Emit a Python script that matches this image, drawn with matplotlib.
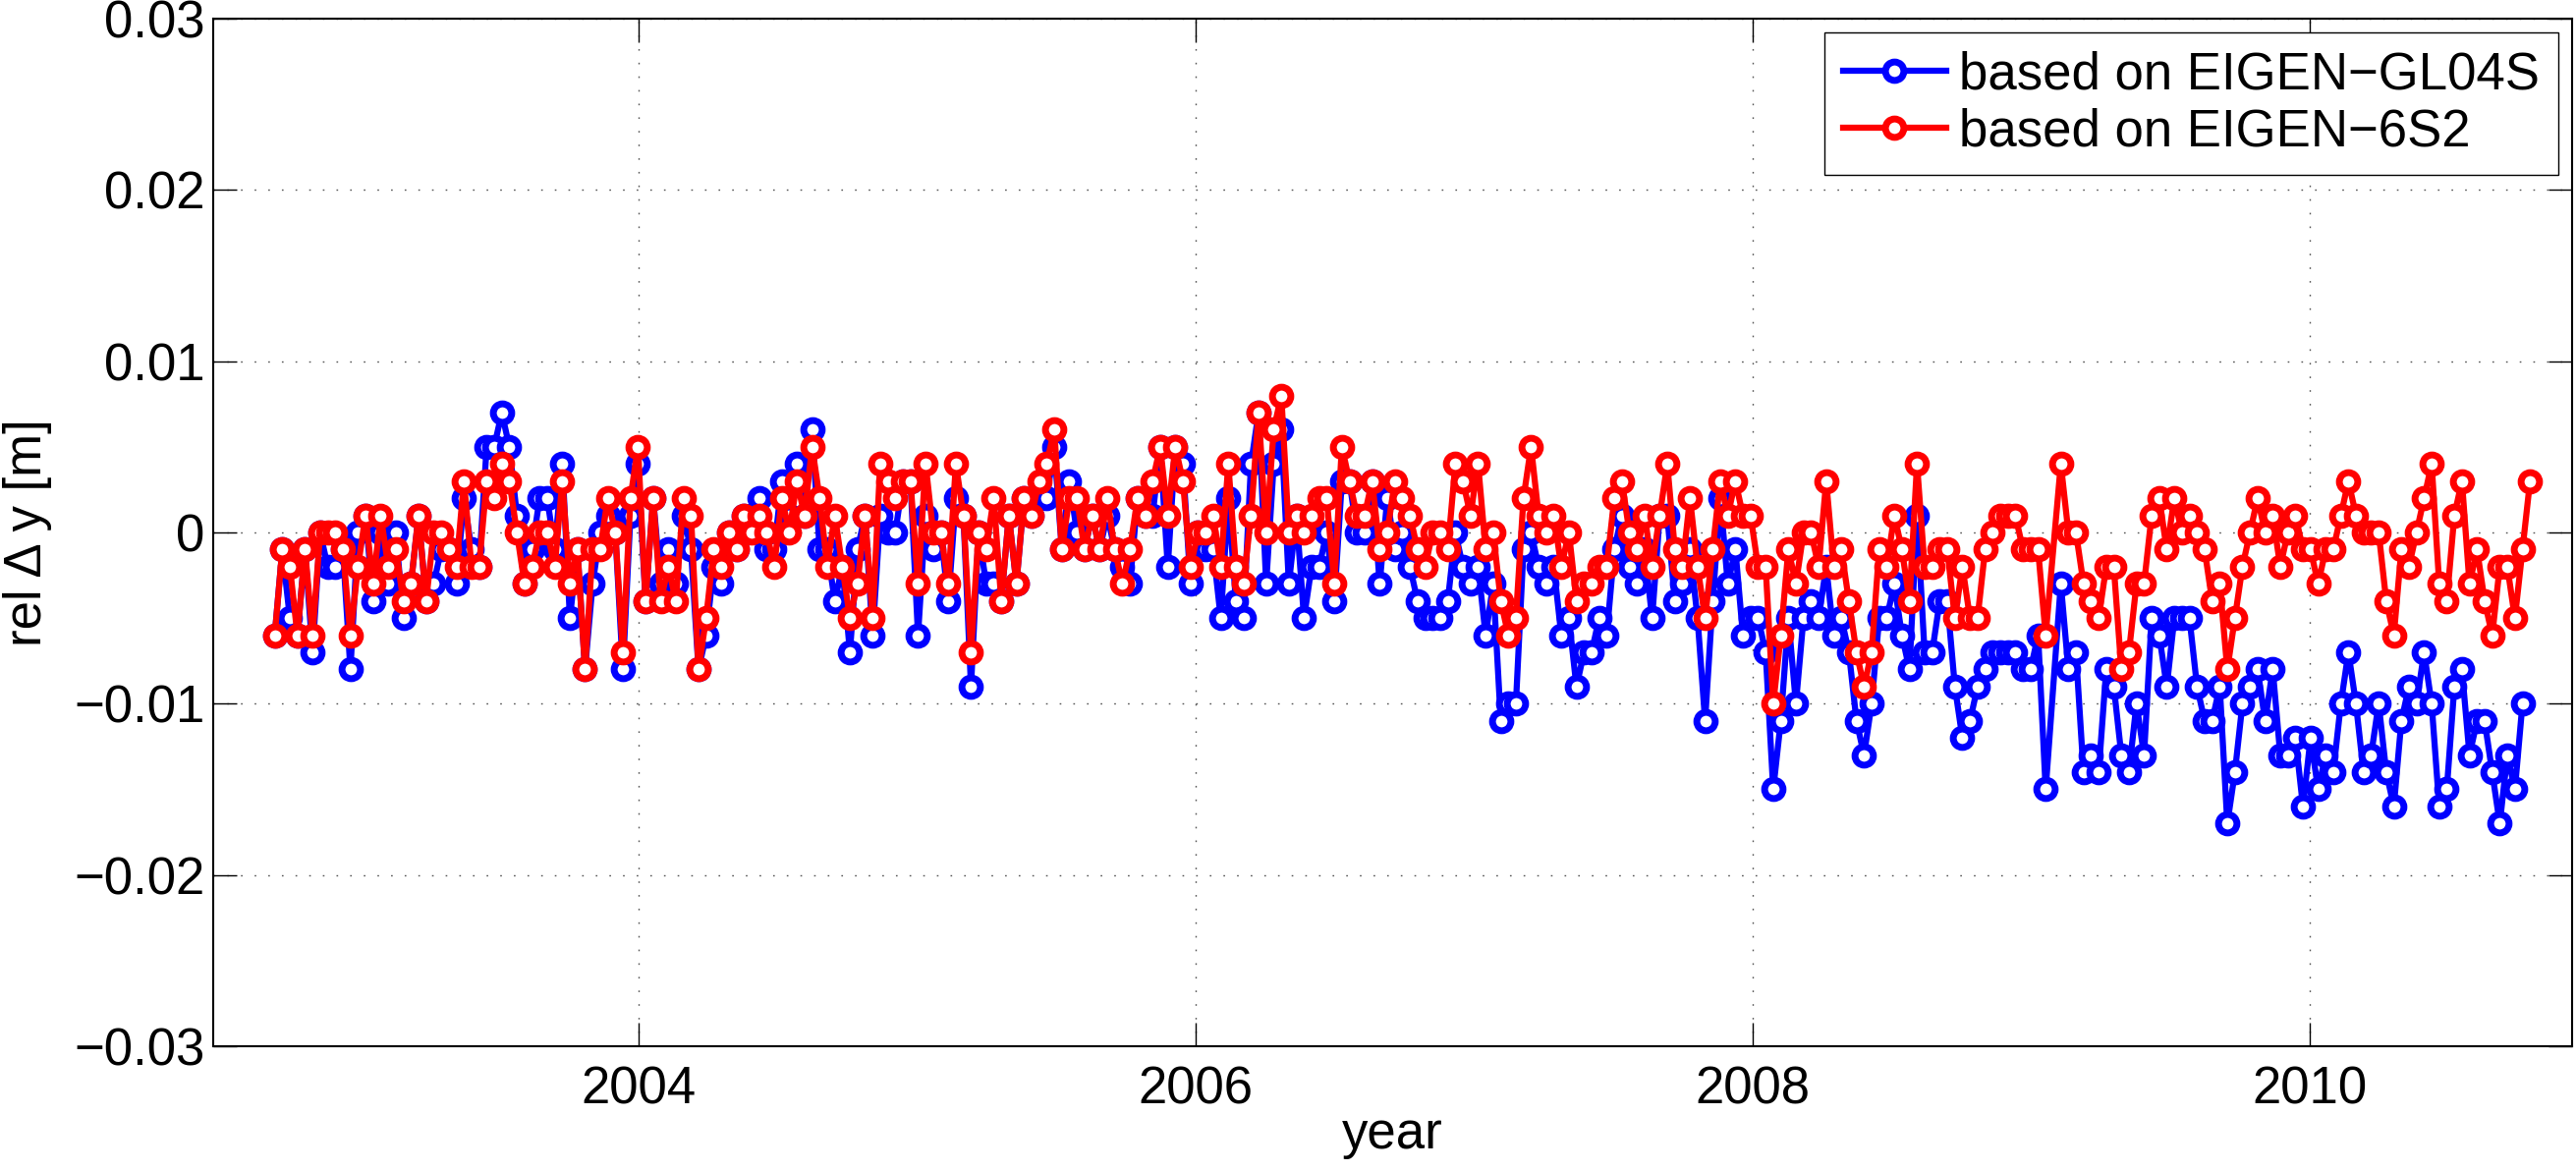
import numpy as np
import matplotlib
matplotlib.use("Agg")
import matplotlib.pyplot as plt
from matplotlib.ticker import FixedLocator, FuncFormatter

plt.rcParams['font.family'] = ['Liberation Sans', 'DejaVu Sans']
plt.rcParams['axes.unicode_minus'] = True

# ---- data -------------------------------------------------------------
# 10-day solutions: decimal year of first solution and spacing, one missing solution
T_START = 2002.693
T_STEP = 0.027178
N_SOL = 299
MISSING = [235]

# rel. Delta y in millimetres, based on EIGEN-6S2 (red)
red_mm = [
    -6, -1, -2, -6, -1, -6, 0, 0, 0, -1,
    -6, -2, 1, -3, 1, -2, -1, -4, -3, 1,
    -4, 0, 0, -1, -2, 3, -2, -2, 3, 2,
    4, 3, 0, -3, -2, 0, 0, -2, 3, -3,
    -1, -8, -1, -1, 2, 0, -7, 2, 5,
    -4, 2, -4, -2, -4, 2, 1, -8, -5, -1,
    -2, 0, -1, 1, 0, 1, 0, -2, 2, 0,
    3, 1, 5, 2, -2, 1, -2, -5, -3, 1,
    -5, 4,
    3, 2, 3, 3, -3, 4, 0, 0, -3,
    4, 1, -7, 0, -1, 2, -4, 1, -3, 2,
    1, 3, 4, 6, -1, 2, 2, -1, 1, -1,
    2, -1, -3, -1, 2, 1, 3, 5, 1, 5,
    3, -2, 0, 0, 1, -2, 4, -2, -3, 1,
    7, 0, 6, 8, 0, 1, 0, 1, 2, 2,
    -3, 5, 3, 1, 1, 3, -1, 0, 3, 2,
    1, -1, -2, 0, 0, -1, 4, 3, 1, 4,
    -1, 0, -4, -6, -5, 2, 5,
    1, 0, 1, -2, 0, -4, -3, -3, -2, -2,
    2, 3, 0, -1, 1, -2, 1, 4, -1, -2,
    2, -2, -5, -1, 3, 1, 3, 1, 1, -2,
    -2, -10, -6, -1, -3, 0, 0, -2, 3, -2,
    -1, -4, -7, -9, -7, -1, -2, 1, -1, -4,
    4, -2, -2, -1, -1, -5, -2, -5, -5, -1,
    0, 1, 1, 1, -1, -1, -1, -6,
    4, 0, 0, -3, -4, -5, -2, -2, -8, -7,
    -3, -3, 1, 2, -1, 2, 0, 1, 0, -1,
    -4, -3, -8, -5, -2, 0, 2, 0, 1, -2,
    0, 1, -1, -1, -3, -1, -1, 1, 3, 1,
    0, 0, 0, -4, -6, -1, -2, 0, 2, 4,
    -3, -4, 1, 3, -3, -1, -4, -6, -2, -2,
    -5, -1, 3,
]

# rel. Delta y in millimetres, based on EIGEN-GL04S (blue)
blue_mm = [
    -6, -1, -5, -6, -1, -7, 0, -2, -2, -1,
    -8, 0, 1, -4, 0, -3, 0, -5, -3, 1,
    -4, -3, -1, -1, -3, 2, -1, -2, 5, 5,
    7, 5, 1, -3, -1, 2, 2, -1, 4, -5,
    -1, -8, -3, 0, 1, 0, -8, 1, 4,
    -4, 2, -3, -1, -3, 1, -1, -8, -6, -2,
    -3, 0, -1, 1, 1, 2, -1, -1, 3, 1,
    4, 1, 6, -1, -1, -4, -2, -7, -1, 1,
    -6, 1,
    0, 0, 3, 3, -6, 1, -1, 0, -4,
    2, 1, -9, 0, -3, -3, -4, 1, -3, 2,
    1, 2, 2, 5, -1, 3, 0, -1, 1, -1,
    1, -1, -2, -3, 2, 1, 1, 5, -2, 5,
    4, -3, 0, -1, -1, -5, 2, -4, -5, 4,
    7, -3, 4, 6, -3, 1, -5, -2, -2, 0,
    -4, 3, 3, 0, 0, 3, -3, 2, -1, 0,
    -2, -4, -5, -5, -5, -4, 0, -2, -3, -2,
    -6, -3, -11, -10, -10, -1,
    0, -2, -3, -2, -6, -5, -9, -7, -7, -5,
    -6, -1, 1, -2, -3, -1, -5, 1, 1, -4,
    -3, -1, -5, -11, -4, 2, -3, -1, -6, -5,
    -5, -7, -15, -11, -5, -10, -5, -4, -5, -2,
    -6, -5, -7, -11, -13, -10, -5, -5, -3, -6,
    -8, 1, -7, -7, -4, -4, -9, -12, -11, -9,
    -8, -7, -7, -7, -7, -8, -8, -6, -15,
    -3, -8, -7, -14, -13, -14, -8, -9, -13, -14,
    -10, -13, -5, -6, -9, -5, -5, -5, -9, -11,
    -11, -9, -17, -14, -10, -9, -8, -11, -8, -13,
    -13, -12, -16, -12, -15, -13, -14, -10, -7, -10,
    -14, -13, -10, -14, -16, -11, -9, -10, -7, -10,
    -16, -15, -9, -8, -13, -11, -11, -14, -17, -13,
    -15, -10, np.nan,
]

labels = ['based on EIGEN\u2212GL04S', 'based on EIGEN\u22126S2']
x_ticks = [2004, 2006, 2008, 2010]
y_ticks = [-0.03, -0.02, -0.01, 0.0, 0.01, 0.02, 0.03]
x_limits = (2002.472, 2010.943)
y_limits = (-0.03, 0.03)

# ---- derived ------------------------------------------------------------
sol = np.array([k for k in range(N_SOL) if k not in MISSING])
t = T_START + T_STEP * sol
red = np.array(red_mm, dtype=float) / 1000.0
blue = np.array(blue_mm, dtype=float) / 1000.0
assert len(red) == len(t) and len(blue) == len(t)

# ---- figure -------------------------------------------------------------
W, H = 2622, 1192
fig = plt.figure(figsize=(W / 100, H / 100), dpi=100)
ax = fig.add_axes([217 / W, 1 - 1065 / H, (2618 - 217) / W, (1065 - 19) / H])

FS = 38
style = dict(linewidth=4.5, marker='o', markersize=13.5, markeredgewidth=5,
             markerfacecolor='white')
ax.plot(t, blue, color=(0, 0, 1), label=labels[0], zorder=3, **style)
ax.plot(t, red, color=(1, 0, 0), label=labels[1], zorder=4, **style)

ax.set_xlim(*x_limits)
ax.set_ylim(*y_limits)
ax.xaxis.set_major_locator(FixedLocator(x_ticks))
ax.yaxis.set_major_locator(FixedLocator(y_ticks))
ax.xaxis.set_major_formatter(FuncFormatter(lambda v, p: f"{v:.0f}"))


def yfmt(v, p):
    if abs(v) < 1e-12:
        return "0"
    return f"{v:.2f}".replace("-", "\u2212")


ax.yaxis.set_major_formatter(FuncFormatter(yfmt))

ax.grid(True, color='#555555', linestyle=(0, (1.2, 8.8)), linewidth=1.0, zorder=0)
ax.set_axisbelow(True)

ax.tick_params(axis='both', which='major', direction='in', length=17.3, width=1.0,
               top=True, right=True, labelsize=FS, color='black')
ax.tick_params(axis='x', pad=14)
ax.tick_params(axis='y', pad=6)
for s in ax.spines.values():
    s.set_linewidth(1.5)
    s.set_color('black')

ax.set_xlabel('year', fontsize=FS)
ax.set_ylabel('rel \u0394 y [m]', fontsize=FS)
ax.xaxis.set_label_coords(0.5, -0.062)
ax.yaxis.set_label_coords(-0.0685, 0.5)

leg = ax.legend(loc='upper right', fontsize=FS, handlelength=2.0, handletextpad=0.25,
                borderpad=0.35, labelspacing=0.15, borderaxespad=0.27,
                fancybox=False, framealpha=1, edgecolor='black', numpoints=1)
leg.get_frame().set_linewidth(1.0)

fig.savefig('out.png', dpi=100)
